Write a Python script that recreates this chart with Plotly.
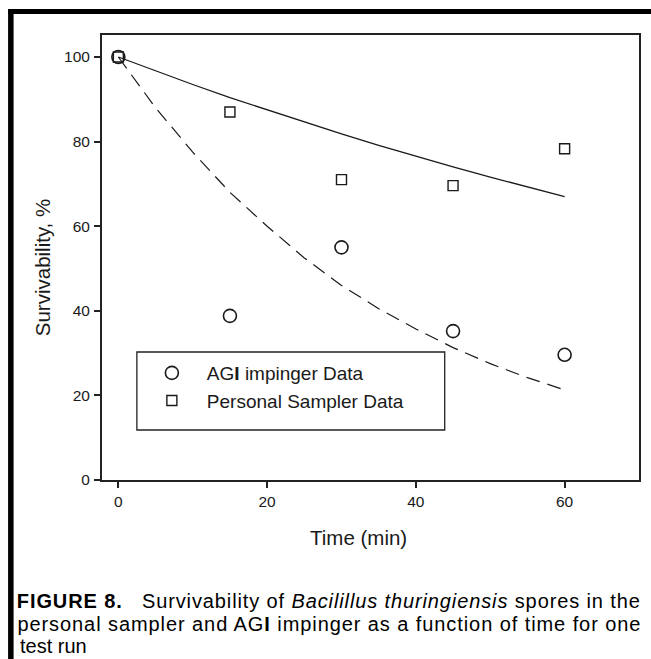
import plotly.graph_objects as go

# ---- data ----
time_pts = [0, 15, 30, 45, 60]
agi_surv = [100, 38.8, 55.0, 35.2, 29.6]
personal_surv = [100, 87.0, 71.0, 69.6, 78.3]

fit_time = [0, 5, 10, 15, 20, 25, 30, 35, 40, 45, 50, 55, 60]
agi_fit = [100, 88, 77.5, 68, 60, 52.5, 46, 40.5, 35.7, 31.3, 27.5, 24.2, 21.3]
personal_fit = [100, 96.7, 93.5, 90.4, 87.5, 84.6, 81.8, 79.1, 76.5, 74.0, 71.6, 69.3, 67.0]

x_ticks = [0, 20, 40, 60]
y_ticks = [0, 20, 40, 60, 80, 100]

# ---- geometry (pixels) ----
W_FIG, H_FIG = 651, 659
L, R, T, B = 102, 641, 35, 480
PW, PH = R - L, B - T

def px(x):
    return (x - L) / PW

def py(y):
    return (B - y) / PH

FONT = "Liberation Sans, Arial, Helvetica, sans-serif"
INK = "#1a1a1a"

fig = go.Figure()

fig.add_trace(go.Scatter(x=fit_time, y=agi_fit, mode="lines", showlegend=False,
                         line=dict(color=INK, width=1.2, dash="14px,8px"), hoverinfo="skip"))
fig.add_trace(go.Scatter(x=fit_time, y=personal_fit, mode="lines", showlegend=False,
                         line=dict(color=INK, width=1.3), hoverinfo="skip"))
fig.add_trace(go.Scatter(x=time_pts, y=agi_surv, mode="markers", name="AG<b>I</b> impinger Data",
                         marker=dict(symbol="circle-open", size=13, color=INK, line=dict(width=1.6, color=INK))))
fig.add_trace(go.Scatter(x=time_pts, y=personal_surv, mode="markers", name="Personal Sampler Data",
                         marker=dict(symbol="square-open", size=10, color=INK, line=dict(width=1.4, color=INK))))

axis_common = dict(showline=True, linecolor="#222", linewidth=2, mirror=True,
                   ticks="outside", ticklen=6, tickwidth=1.5, tickcolor="#222",
                   showgrid=False, zeroline=False,
                   tickfont=dict(family=FONT, size=15.5, color=INK))

fig.update_xaxes(range=[-2.2, 70], tickvals=x_ticks, **axis_common)
fig.update_yaxes(range=[0, 105.2], tickvals=y_ticks, ticklabelstandoff=1, **axis_common)

shapes = [
    # outer figure frame (left and top)
    dict(type="line", xref="paper", yref="paper", x0=px(10.5), x1=px(10.5), y0=py(9), y1=py(665),
         line=dict(color="black", width=5.5)),
    dict(type="line", xref="paper", yref="paper", x0=px(8), x1=px(660), y0=py(11.5), y1=py(11.5),
         line=dict(color="black", width=5)),
    # legend box
    dict(type="rect", xref="paper", yref="paper", x0=px(137), x1=px(446), y0=py(352), y1=py(430),
         line=dict(color="#222", width=1.3)),
]

CAP = 20
annotations = [
    dict(text="Survivability, %", xref="paper", yref="paper", x=px(42), y=py(268),
         textangle=-90, showarrow=False, xanchor="center", yanchor="middle",
         font=dict(family=FONT, size=20.5, color=INK)),
    dict(text="Time (min)", xref="paper", yref="paper", x=px(359), y=py(537),
         showarrow=False, xanchor="center", yanchor="middle",
         font=dict(family=FONT, size=20.5, color=INK)),
    dict(text="<b>FIGURE 8.</b>\u00a0\u00a0\u00a0Survivability of <i>Bacilillus thuringiensis</i> spores in the",
         xref="paper", yref="paper", x=px(329.5), y=py(601), showarrow=False,
         xanchor="center", yanchor="middle", font=dict(family=FONT, size=CAP, color="black")),
    dict(text="personal sampler and AG<b>I</b> impinger as a function of time for one",
         xref="paper", yref="paper", x=px(329.5), y=py(624), showarrow=False,
         xanchor="center", yanchor="middle", font=dict(family=FONT, size=CAP, color="black")),
    dict(text="test run", xref="paper", yref="paper", x=px(18), y=py(646),
         showarrow=False, xanchor="left", yanchor="middle",
         font=dict(family=FONT, size=CAP, color="black")),
]

fig.update_layout(
    width=W_FIG, height=H_FIG, autosize=False,
    margin=dict(l=L, r=W_FIG - R, t=T, b=H_FIG - B, pad=0),
    paper_bgcolor="white", plot_bgcolor="white",
    font=dict(family=FONT, color=INK),
    shapes=shapes, annotations=annotations,
    legend=dict(x=px(137), y=py(354), xanchor="left", yanchor="top",
                bgcolor="rgba(0,0,0,0)", borderwidth=0, itemwidth=60,
                font=dict(family=FONT, size=19, color=INK), tracegroupgap=0),
)

# remove the browser's default page margin and justify the two full caption lines
post = """
document.body.style.margin = '0';
document.querySelectorAll('.annotation-text').forEach(function (t) {
  var s = t.textContent || '';
  if (s.indexOf('FIGURE') === 0 || s.indexOf('personal sampler') === 0) {
    t.setAttribute('textLength', '623');
    t.setAttribute('lengthAdjust', 'spacing');
  }
});
"""

fig.write_html("out.html", post_script=post, config={"displayModeBar": False})
